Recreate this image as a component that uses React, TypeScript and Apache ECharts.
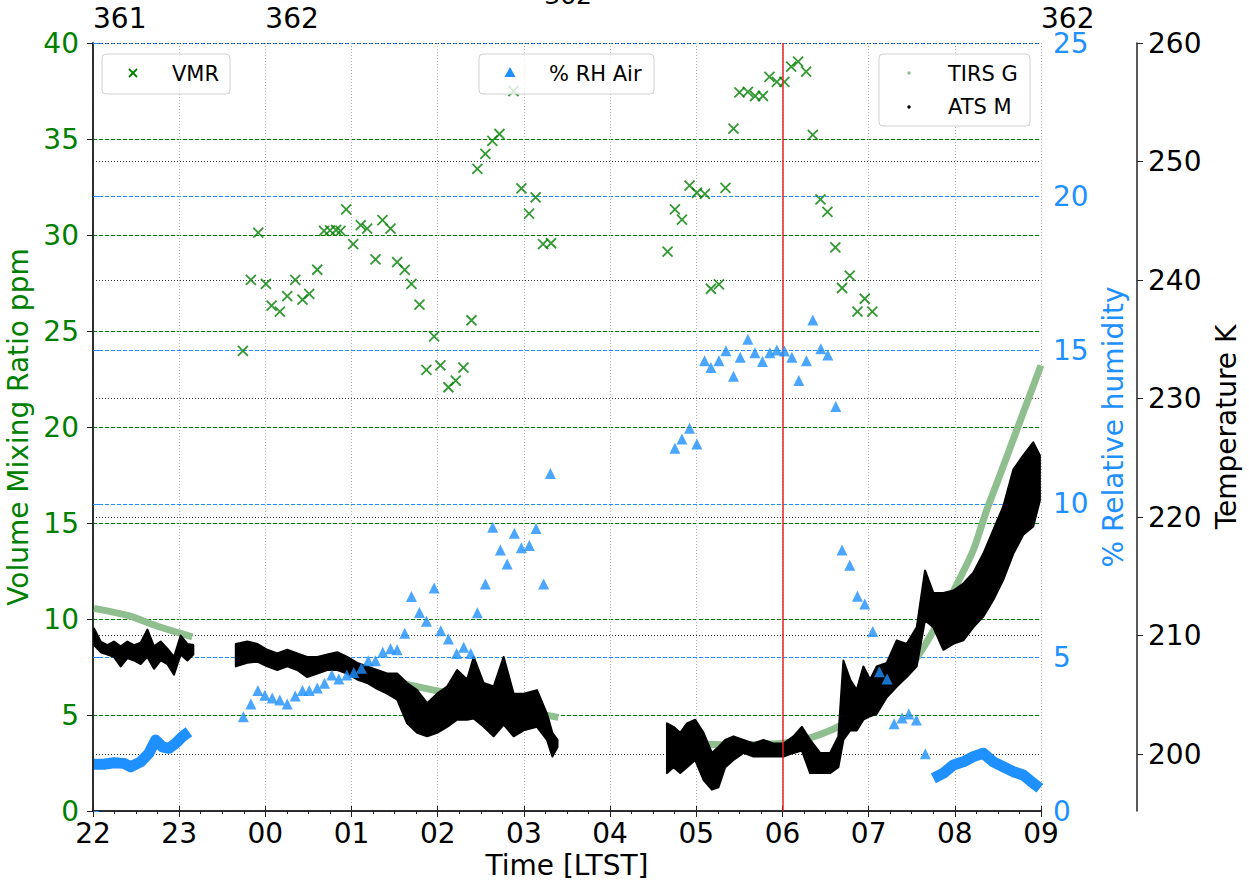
import React, { useEffect, useRef } from 'react';
import * as echarts from 'echarts';

// ---------- DATA ----------
// x values: hours since 22:00 LTST (sol 361)
const HOUR_LABELS = ['22', '23', '00', '01', '02', '03', '04', '05', '06', '07', '08', '09'];
const SOL_TICKS = [0, 2, 11];
const SOL_LABELS = ['361', '362', '362'];

// VMR (ppm)
const VMR_H = [1.739, 1.832, 1.918, 2.006, 2.072, 2.168, 2.254, 2.347, 2.431, 2.509, 2.602, 2.681, 2.750, 2.820, 2.872, 2.938, 3.019, 3.107, 3.181, 3.278, 3.359, 3.452, 3.529, 3.617, 3.695, 3.788, 3.869, 3.958, 4.031, 4.124, 4.209, 4.298, 4.391, 4.460, 4.553, 4.634, 4.716, 4.879, 4.971, 5.060, 5.136, 5.222, 5.315,
  6.667, 6.752, 6.834, 6.922, 7.007, 7.100, 7.170, 7.263, 7.339, 7.432, 7.501, 7.599, 7.683, 7.773, 7.849, 7.935, 8.023, 8.101, 8.182, 8.275, 8.352, 8.441, 8.522, 8.614, 8.692, 8.781, 8.870, 8.955, 9.043];
const VMR_PPM = [23.97, 27.66, 30.12, 27.46, 26.32, 26.01, 26.82, 27.66, 26.63, 26.93, 28.19, 30.22, 30.24, 30.26, 30.21, 31.34, 29.52, 30.52, 30.33, 28.73, 30.78, 30.33, 28.59, 28.18, 27.46, 26.37, 22.97, 24.72, 23.21, 22.07, 22.41, 23.09, 25.56, 33.44, 34.22, 34.90, 35.26, 37.50, 32.43, 31.11, 31.96, 29.53, 29.57,
  29.13, 31.34, 30.80, 32.57, 32.20, 32.14, 27.20, 27.43, 32.46, 35.54, 37.43, 37.46, 37.24, 37.24, 38.24, 37.98, 37.98, 38.77, 39.03, 38.51, 35.21, 31.86, 31.20, 29.36, 27.24, 27.88, 26.01, 26.68, 26.01];

// % RH Air (sparse points)
const RH_H = [1.744, 1.832, 1.913, 1.994, 2.080, 2.168, 2.254, 2.347, 2.431, 2.509, 2.602, 2.686, 2.771, 2.852, 2.945, 3.026, 3.115, 3.193, 3.278, 3.362, 3.452, 3.529, 3.617, 3.695, 3.788, 3.869, 3.958, 4.035, 4.124, 4.220, 4.301, 4.383, 4.460, 4.553, 4.638, 4.727, 4.805, 4.889, 4.970, 5.063, 5.141, 5.229, 5.307,
  6.752, 6.834, 6.922, 7.007, 7.096, 7.170, 7.263, 7.344, 7.432, 7.510, 7.599, 7.680, 7.768, 7.854, 7.935, 8.023, 8.109, 8.190, 8.278, 8.352, 8.445, 8.526, 8.619, 8.691, 8.781, 8.870, 8.955, 9.048, 9.125, 9.214, 9.296, 9.388, 9.466, 9.554, 9.658];
const RH_PCT = [3.07, 3.48, 3.92, 3.77, 3.68, 3.61, 3.48, 3.74, 3.92, 3.92, 4.00, 4.16, 4.43, 4.30, 4.43, 4.51, 4.65, 4.89, 4.89, 5.17, 5.28, 5.25, 5.79, 6.98, 6.46, 6.18, 7.26, 5.87, 5.60, 5.13, 5.33, 5.13, 6.45, 7.39, 9.24, 8.50, 8.04, 9.04, 8.57, 8.64, 9.20, 7.39, 10.99,
  11.81, 12.11, 12.46, 11.95, 14.66, 14.44, 14.66, 14.98, 14.15, 14.77, 15.36, 14.92, 14.63, 14.92, 15.01, 14.97, 14.77, 14.01, 14.66, 15.98, 15.05, 14.84, 13.17, 8.50, 8.00, 6.99, 6.74, 5.84, 4.53, 4.30, 2.84, 3.03, 3.16, 2.96, 1.86];

// % RH Air (dense runs, drawn as a band)
const RH_RUN1_H = [0.012, 0.128, 0.243, 0.359, 0.437, 0.553, 0.649, 0.727, 0.805, 0.881, 0.959, 1.037, 1.113];
const RH_RUN1 = [1.52, 1.52, 1.57, 1.55, 1.44, 1.60, 1.88, 2.31, 2.09, 2.04, 2.20, 2.42, 2.58];
const RH_RUN2_H = [9.751, 9.867, 9.983, 10.099, 10.214, 10.330, 10.446, 10.562, 10.678, 10.794, 10.890, 10.987];
const RH_RUN2 = [1.06, 1.23, 1.50, 1.60, 1.77, 1.88, 1.60, 1.44, 1.28, 1.17, 0.95, 0.74];

// TIRS G temperature (K)
const TIRS1_H = [0.012, 0.399, 0.785, 1.152];
const TIRS1_K = [212.3, 211.7, 210.7, 209.9];
const TIRS2_H = [1.655, 2.408, 2.988, 3.567, 4.147, 4.727, 5.399];
const TIRS2_K = [209.0, 207.9, 207.1, 206.0, 205.1, 204.0, 203.1];
const TIRS3_H = [6.660, 7.008, 7.316, 7.973, 8.283, 8.553, 8.747, 8.979, 9.249, 9.519, 9.820, 10.022, 10.214, 10.370, 10.501, 10.999];
const TIRS3_K = [201.5, 200.9, 200.8, 200.9, 201.3, 202.0, 202.7, 203.7, 205.4, 207.7, 211.3, 214.3, 217.2, 220.6, 223.1, 232.8];

// ATS M temperature (K): upper and lower envelope of the dense samples
const ATS1_H = [0.012, 0.089, 0.167, 0.243, 0.321, 0.399, 0.476, 0.553, 0.631, 0.708, 0.785, 0.863, 0.940, 1.017, 1.095, 1.164];
const ATS1_HI = [210.6, 209.5, 209.2, 209.5, 209.1, 209.5, 209.2, 209.4, 210.5, 209.1, 209.5, 208.9, 208.2, 210.0, 209.3, 209.2];
const ATS1_LO = [209.2, 208.6, 208.4, 208.2, 207.4, 208.1, 207.9, 207.6, 208.2, 207.2, 207.9, 207.6, 206.7, 208.4, 207.9, 208.4];
const ATS2_H = [1.657, 1.790, 1.906, 2.022, 2.138, 2.254, 2.370, 2.486, 2.602, 2.718, 2.834, 2.950, 3.066, 3.181, 3.297, 3.413, 3.529, 3.645, 3.761, 3.877, 3.993, 4.109, 4.225, 4.341, 4.417, 4.533, 4.649, 4.765, 4.881, 4.997, 5.152, 5.268, 5.330, 5.390];
const ATS2_HI = [209.3, 209.5, 209.3, 208.8, 208.5, 208.8, 208.5, 208.2, 208.2, 208.4, 208.6, 208.2, 207.7, 207.4, 207.1, 206.8, 206.8, 206.0, 205.4, 204.3, 205.1, 205.7, 207.1, 206.3, 208.2, 206.0, 205.7, 208.2, 205.1, 205.1, 205.4, 203.4, 201.8, 201.2];
const ATS2_LO = [207.4, 207.7, 207.8, 207.4, 207.1, 207.4, 207.1, 206.5, 206.8, 207.1, 207.1, 206.8, 206.3, 206.0, 205.5, 205.1, 204.6, 202.6, 201.8, 201.5, 201.8, 202.3, 202.9, 202.9, 203.0, 202.3, 201.5, 202.5, 201.5, 202.0, 202.3, 201.2, 199.8, 200.6];
const ATS3_H = [6.660, 6.736, 6.814, 6.892, 6.988, 7.085, 7.181, 7.258, 7.336, 7.432, 7.548, 7.664, 7.780, 7.896, 8.012, 8.128, 8.225, 8.321, 8.437, 8.553, 8.649, 8.707, 8.785, 8.862, 8.939, 9.017, 9.094, 9.210, 9.326, 9.442, 9.558, 9.654, 9.751, 9.867, 9.983, 10.099, 10.214, 10.330, 10.446, 10.562, 10.678, 10.794, 10.910, 10.987];
const ATS3_HI = [202.6, 202.3, 201.8, 202.6, 202.9, 201.8, 200.1, 200.6, 201.2, 201.5, 201.2, 200.9, 201.2, 200.9, 200.9, 201.5, 202.3, 201.2, 200.1, 200.1, 201.5, 207.9, 206.3, 205.4, 207.4, 206.3, 207.4, 207.7, 209.6, 209.3, 210.7, 215.5, 213.6, 213.6, 213.8, 214.4, 215.3, 216.9, 218.9, 220.9, 224.0, 225.2, 226.3, 225.2];
const ATS3_LO = [198.4, 198.9, 198.4, 198.9, 199.5, 197.8, 197.0, 197.2, 198.9, 199.5, 200.1, 199.8, 199.8, 199.8, 199.8, 200.1, 200.3, 198.4, 198.4, 198.4, 198.9, 201.2, 202.0, 202.0, 202.9, 203.2, 203.4, 204.8, 205.7, 206.5, 207.4, 211.3, 210.7, 208.8, 209.3, 209.6, 210.7, 211.6, 213.0, 214.7, 216.9, 218.5, 219.2, 221.4];

const TEMP_TICKS = [200, 210, 220, 230, 240, 250, 260];
const MARK_HOUR = 8; // 06 LTST

// ---------- STYLE ----------
const FONT = 'DejaVu Sans';
const GREEN = '#008000';
const BLUE = '#1e90ff';
const TIRS_COLOR = '#8fbf8f';
const TICK_FS = 28;
const TICK_LH = 20;
const NAME_FS = 28;

const zip = (a: number[], b: number[]) => a.map((v, i) => [v, b[i]]);

const ATS_SEGMENTS = [
  { h: ATS1_H, hi: ATS1_HI, lo: ATS1_LO },
  { h: ATS2_H, hi: ATS2_HI, lo: ATS2_LO },
  { h: ATS3_H, hi: ATS3_HI, lo: ATS3_LO },
];

function buildOption(): any {
  const tirsLine = (name: string, h: number[], k: number[]) => ({
    type: 'line', name, xAxisIndex: 0, yAxisIndex: 2, z: 2,
    data: zip(h, k), showSymbol: false, smooth: 0.3,
    lineStyle: { color: TIRS_COLOR, width: 7 }, silent: true,
  });
  const rhRun = (h: number[], v: number[]) => ({
    type: 'line', name: '% RH Air', xAxisIndex: 0, yAxisIndex: 1, z: 5,
    data: zip(h, v), showSymbol: false,
    lineStyle: { color: BLUE, width: 11, join: 'round' }, silent: true,
  });

  return {
    animation: false,
    textStyle: { fontFamily: FONT },
    grid: { left: 93, right: 208, top: 43, bottom: 75, containLabel: false, outerBoundsMode: 'none' },
    title: {
      text: '362', left: 563, top: -22, textAlign: 'center',
      textStyle: { fontSize: 25, fontWeight: 'normal', color: '#000', fontFamily: FONT },
    },
    xAxis: [
      {
        type: 'value', position: 'bottom', min: 0, max: 11, interval: 1,
        axisLine: { lineStyle: { color: '#222', width: 1.5 } },
        axisTick: { inside: false, length: 6, lineStyle: { color: '#222' } },
        minorTick: { show: true, splitNumber: 4, length: 3, lineStyle: { color: '#222' } },
        axisLabel: {
          fontSize: TICK_FS, lineHeight: TICK_LH, color: '#000', margin: 12,
          formatter: (v: number) => HOUR_LABELS[Math.round(v)] ?? '',
        },
        splitLine: { show: true, lineStyle: { color: '#b0b0b0', type: [1, 2], width: 1 } },
        name: 'Time [LTST]', nameLocation: 'middle', nameGap: 38,
        nameTextStyle: { fontSize: NAME_FS, color: '#000' },
      },
      {
        type: 'value', position: 'top', min: 0, max: 11, interval: 1,
        axisLine: { lineStyle: { color: '#222', width: 1.5 } },
        axisTick: { inside: false, length: 5, lineStyle: { color: '#222' } },
        axisLabel: {
          fontSize: TICK_FS, lineHeight: TICK_LH, color: '#000', margin: 15, align: 'left', showMaxLabel: true,
          formatter: (v: number) => {
            const i = SOL_TICKS.indexOf(Math.round(v));
            return i >= 0 ? SOL_LABELS[i] : '';
          },
        },
        splitLine: { show: false },
      },
    ],
    yAxis: [
      {
        type: 'value', position: 'left', min: 0, max: 40, interval: 5,
        axisLine: { show: true, lineStyle: { color: '#222', width: 1.5 } },
        axisTick: { show: true, length: 6, lineStyle: { color: '#222' } },
        axisLabel: { fontSize: TICK_FS, lineHeight: TICK_LH, color: GREEN, margin: 14 },
        splitLine: { show: true, lineStyle: { color: GREEN, type: [4, 2], width: 1.1 } },
        name: 'Volume Mixing Ratio ppm', nameLocation: 'middle', nameGap: 54, nameRotate: 90,
        nameTextStyle: { fontSize: NAME_FS, color: GREEN },
      },
      {
        type: 'value', position: 'right', min: 0, max: 25, interval: 5,
        axisLine: { show: true, lineStyle: { color: '#222', width: 1.5 } },
        axisTick: { show: true, length: 6, lineStyle: { color: BLUE } },
        axisLabel: { fontSize: TICK_FS, lineHeight: TICK_LH, color: BLUE, margin: 12 },
        splitLine: { show: true, lineStyle: { color: BLUE, type: [4, 2], width: 1.1 } },
        name: '% Relative humidity', nameLocation: 'middle', nameGap: 46, nameRotate: 90,
        nameTextStyle: { fontSize: NAME_FS, color: BLUE },
      },
      {
        type: 'value', position: 'right', offset: 96, min: 195.2, max: 260,
        axisLine: { show: true, lineStyle: { color: '#222', width: 1.5 } },
        axisTick: { show: true, length: 6, customValues: TEMP_TICKS, lineStyle: { color: '#222' } },
        axisLabel: { fontSize: TICK_FS, lineHeight: TICK_LH, color: '#000', margin: 11, customValues: TEMP_TICKS },
        splitLine: { show: true, lineStyle: { color: '#333', type: [1, 2], width: 1 } },
        name: 'Temperature K', nameLocation: 'middle', nameGap: 60, nameRotate: 90,
        nameTextStyle: { fontSize: NAME_FS, color: '#000' },
      },
    ],
    series: [
      tirsLine('TIRS G', TIRS1_H, TIRS1_K),
      tirsLine('TIRS G', TIRS2_H, TIRS2_K),
      tirsLine('TIRS G', TIRS3_H, TIRS3_K),
      {
        type: 'custom', name: 'ATS M', xAxisIndex: 0, yAxisIndex: 2, z: 3,
        data: ATS_SEGMENTS.map((s, i) => [s.h[0], s.hi[0], i]),
        encode: { x: 0, y: 1 }, silent: true,
        renderItem: (params: any, api: any) => {
          const s = ATS_SEGMENTS[params.dataIndex];
          const pts: number[][] = [];
          s.h.forEach((h, k) => pts.push(api.coord([h, s.hi[k]])));
          for (let k = s.h.length - 1; k >= 0; k--) pts.push(api.coord([s.h[k], s.lo[k]]));
          return {
            type: 'polygon', shape: { points: pts },
            style: { fill: '#000', stroke: '#000', lineWidth: 2, lineJoin: 'round' },
          };
        },
      },
      {
        type: 'scatter', name: 'VMR', xAxisIndex: 0, yAxisIndex: 0, z: 4,
        data: zip(VMR_H, VMR_PPM),
        symbol: 'path://M0,0L10,10M10,0L0,10', symbolSize: 10,
        itemStyle: { color: GREEN, borderColor: GREEN, borderWidth: 1.8 },
        silent: true,
        markLine: {
          silent: true, symbol: 'none', label: { show: false },
          lineStyle: { color: '#e3242b', width: 1.5, type: 'solid' },
          data: [{ xAxis: MARK_HOUR }],
        },
      },
      rhRun(RH_RUN1_H, RH_RUN1),
      rhRun(RH_RUN2_H, RH_RUN2),
      {
        type: 'scatter', name: '% RH Air', xAxisIndex: 0, yAxisIndex: 1, z: 5,
        data: zip(RH_H, RH_PCT), symbol: 'triangle', symbolSize: 11,
        itemStyle: { color: BLUE }, silent: true,
      },
    ],
    graphic: [
      // legend: VMR
      { type: 'rect', z: 100, shape: { x: 102, y: 54, width: 128, height: 40, r: 4 }, style: { fill: 'rgba(255,255,255,0.8)', stroke: '#d0d0d0', lineWidth: 1 } },
      { type: 'line', z: 101, shape: { x1: 129, y1: 69, x2: 137, y2: 77 }, style: { stroke: GREEN, lineWidth: 1.8 } },
      { type: 'line', z: 101, shape: { x1: 137, y1: 69, x2: 129, y2: 77 }, style: { stroke: GREEN, lineWidth: 1.8 } },
      { type: 'text', z: 101, style: { text: 'VMR', x: 172, y: 74, fontSize: 21, fontFamily: FONT, fill: '#000', verticalAlign: 'middle' } },
      // legend: % RH Air
      { type: 'rect', z: 100, shape: { x: 479, y: 54, width: 175, height: 40, r: 4 }, style: { fill: 'rgba(255,255,255,0.8)', stroke: '#d0d0d0', lineWidth: 1 } },
      { type: 'polygon', z: 101, shape: { points: [[510, 67], [515.5, 77], [504.5, 77]] }, style: { fill: BLUE } },
      { type: 'text', z: 101, style: { text: '% RH Air', x: 549, y: 74, fontSize: 21, fontFamily: FONT, fill: '#000', verticalAlign: 'middle' } },
      // legend: TIRS G / ATS M
      { type: 'rect', z: 100, shape: { x: 879, y: 54, width: 151, height: 72, r: 4 }, style: { fill: 'rgba(255,255,255,0.8)', stroke: '#d0d0d0', lineWidth: 1 } },
      { type: 'circle', z: 101, shape: { cx: 909, cy: 73, r: 1.7 }, style: { fill: TIRS_COLOR } },
      { type: 'text', z: 101, style: { text: 'TIRS G', x: 948, y: 74, fontSize: 21, fontFamily: FONT, fill: '#000', verticalAlign: 'middle' } },
      { type: 'circle', z: 101, shape: { cx: 909, cy: 107, r: 1.7 }, style: { fill: '#000' } },
      { type: 'text', z: 101, style: { text: 'ATS M', x: 948, y: 107, fontSize: 21, fontFamily: FONT, fill: '#000', verticalAlign: 'middle' } },
    ],
  };
}

export default function App() {
  const ref = useRef<HTMLDivElement>(null);
  useEffect(() => {
    if (!ref.current) return;
    const chart = echarts.init(ref.current, null, { renderer: 'svg' });
    chart.setOption(buildOption());
    return () => chart.dispose();
  }, []);
  return (
    <div
      ref={ref}
      style={{ position: 'fixed', left: 0, top: 0, width: 1249, height: 886, background: '#fff' }}
    />
  );
}
